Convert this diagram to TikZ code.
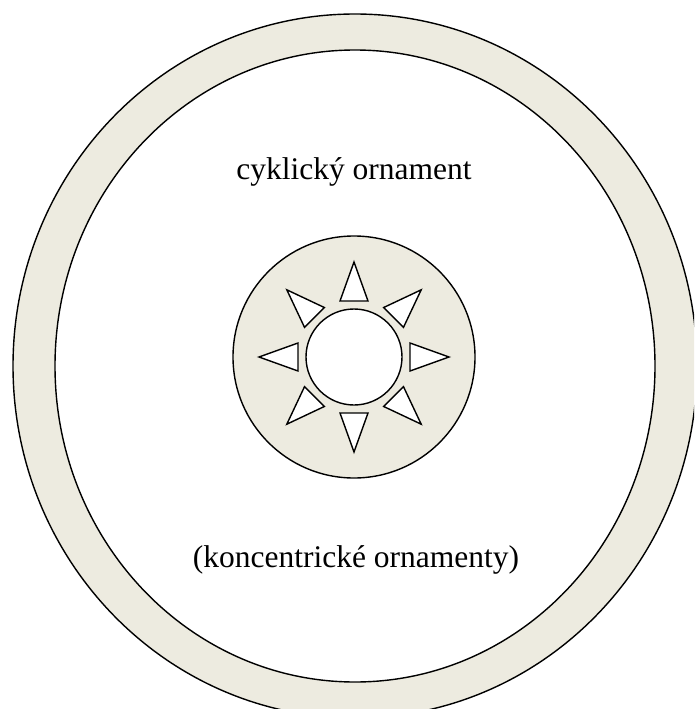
\documentclass[tikz,border=0pt]{standalone}
\usepackage{fontspec}
\setmainfont{Liberation Serif}
\usepackage{xcolor}
\definecolor{ringfill}{HTML}{EDEBE0}
\definecolor{ink}{HTML}{000000}

\begin{document}
\begin{tikzpicture}[x=1pt,y=-1pt,
  rim/.style={draw=ink,line width=1.4pt,fill=ringfill},
  hole/.style={draw=ink,line width=1.4pt,fill=white},
  ray/.style={draw=ink,line width=1.4pt,fill=white,line join=miter},
  lbl/.style={font=\fontsize{31.5}{38}\selectfont,text=ink,inner sep=0pt,anchor=base}]
  \useasboundingbox (0,0) rectangle (694,709);
  \clip (0,0) rectangle (694,709);
  \coordinate (mid) at (355,366);
  \coordinate (sun) at (354,357);
  \draw[rim] (mid) ellipse [x radius=342,y radius=352];
  \draw[hole] (mid) ellipse [x radius=300,y radius=316];
  \draw[rim] (sun) circle [radius=121];
  \draw[hole] (sun) circle [radius=48];
  % eight rays round the hole
  \foreach \a in {0,45,...,315}
    \draw[ray,shift={(sun)},rotate=\a] (56,-14) -- (95,0) -- (56,14) -- cycle;
  \node[lbl] (cyc) at (354,179) {cyklický ornament};
  \node[lbl] (konc) at (356,567) {(koncentrické ornamenty)};
\end{tikzpicture}
\end{document}
